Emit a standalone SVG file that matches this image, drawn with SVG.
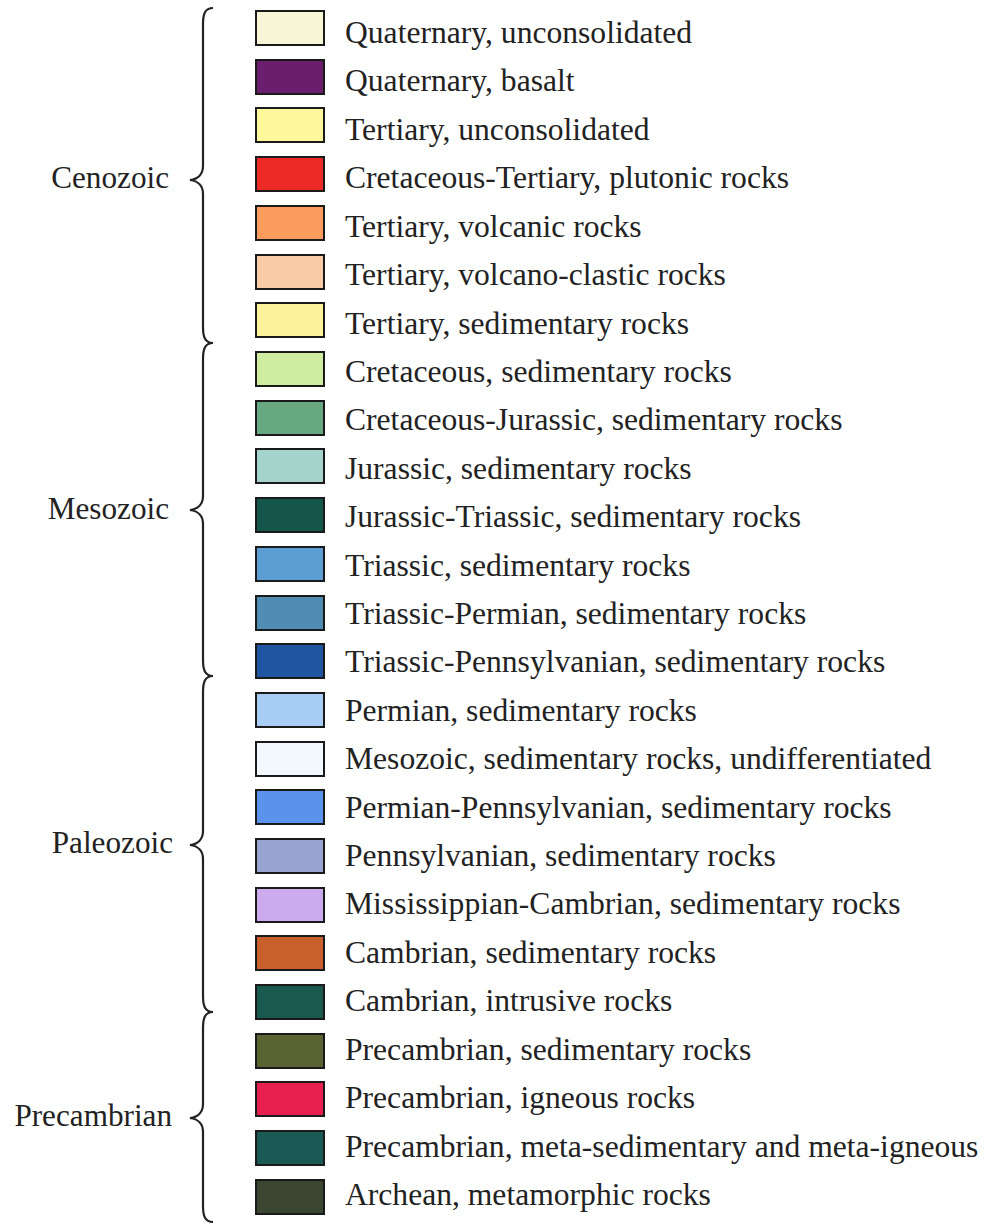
<svg xmlns="http://www.w3.org/2000/svg" width="985" height="1224" viewBox="0 0 985 1224">
<style>
text{font-family:"Liberation Serif","Times New Roman",serif;font-size:31.6px;fill:#222}
.g{text-anchor:end;font-size:31.2px}
.sw{stroke:#1a1a1a;stroke-width:2}
.br{fill:none;stroke:#222;stroke-width:2.2}
</style>
<rect width="985" height="1224" fill="#fff"/>
<g id="braces">
<path id="brace-cenozoic" class="br" d="M213,8 C205,8 203,14 203,24 L203,166 C203,174 198,179 190,180 C198,181 203,186 203,194 L203,327 C203,337 205,343 213,343"/>
<path id="brace-mesozoic" class="br" d="M213,343 C205,343 203,349 203,359 L203,496 C203,504 198,509 190,510 C198,511 203,516 203,524 L203,660 C203,670 205,676 213,676"/>
<path id="brace-paleozoic" class="br" d="M213,676 C205,676 203,682 203,692 L203,831 C203,839 198,844 190,845 C198,846 203,851 203,859 L203,996 C203,1006 205,1012 213,1012"/>
<path id="brace-precambrian" class="br" d="M213,1012 C205,1012 203,1018 203,1028 L203,1104 C203,1112 198,1117 190,1118 C198,1119 203,1124 203,1132 L203,1206 C203,1216 205,1222 213,1222"/>
</g>
<g id="group-labels">
<text class="g" x="169" y="188">Cenozoic</text>
<text class="g" x="169" y="519">Mesozoic</text>
<text class="g" x="173" y="853">Paleozoic</text>
<text class="g" x="172" y="1126">Precambrian</text>
</g>
<g id="items">
<g id="item0"><rect class="sw" x="256" y="11" width="68" height="34" fill="#f7f5d6"/><text x="345" y="43">Quaternary, unconsolidated</text></g>
<g id="item1"><rect class="sw" x="256" y="60" width="68" height="34" fill="#6a1f6e"/><text x="345" y="91">Quaternary, basalt</text></g>
<g id="item2"><rect class="sw" x="256" y="108" width="68" height="34" fill="#fdf89a"/><text x="345" y="140">Tertiary, unconsolidated</text></g>
<g id="item3"><rect class="sw" x="256" y="157" width="68" height="34" fill="#ec2a26"/><text x="345" y="188">Cretaceous-Tertiary, plutonic rocks</text></g>
<g id="item4"><rect class="sw" x="256" y="206" width="68" height="34" fill="#f99c5e"/><text x="345" y="237">Tertiary, volcanic rocks</text></g>
<g id="item5"><rect class="sw" x="256" y="255" width="68" height="34" fill="#f8caa6"/><text x="345" y="285">Tertiary, volcano-clastic rocks</text></g>
<g id="item6"><rect class="sw" x="256" y="303" width="68" height="34" fill="#fdf39c"/><text x="345" y="334">Tertiary, sedimentary rocks</text></g>
<g id="item7"><rect class="sw" x="256" y="352" width="68" height="34" fill="#cfeca0"/><text x="345" y="382">Cretaceous, sedimentary rocks</text></g>
<g id="item8"><rect class="sw" x="256" y="401" width="68" height="34" fill="#67a883"/><text x="345" y="430">Cretaceous-Jurassic, sedimentary rocks</text></g>
<g id="item9"><rect class="sw" x="256" y="449" width="68" height="34" fill="#a4d4cb"/><text x="345" y="479">Jurassic, sedimentary rocks</text></g>
<g id="item10"><rect class="sw" x="256" y="498" width="68" height="34" fill="#14574a"/><text x="345" y="527">Jurassic-Triassic, sedimentary rocks</text></g>
<g id="item11"><rect class="sw" x="256" y="547" width="68" height="34" fill="#5d9ed2"/><text x="345" y="576">Triassic, sedimentary rocks</text></g>
<g id="item12"><rect class="sw" x="256" y="596" width="68" height="34" fill="#4f8db5"/><text x="345" y="624">Triassic-Permian, sedimentary rocks</text></g>
<g id="item13"><rect class="sw" x="256" y="644" width="68" height="34" fill="#1f55a3"/><text x="345" y="672">Triassic-Pennsylvanian, sedimentary rocks</text></g>
<g id="item14"><rect class="sw" x="256" y="693" width="68" height="34" fill="#a7cdf4"/><text x="345" y="721">Permian, sedimentary rocks</text></g>
<g id="item15"><rect class="sw" x="256" y="742" width="68" height="34" fill="#f3f8fc"/><text x="345" y="769">Mesozoic, sedimentary rocks, undifferentiated</text></g>
<g id="item16"><rect class="sw" x="256" y="790" width="68" height="34" fill="#5b93ec"/><text x="345" y="818">Permian-Pennsylvanian, sedimentary rocks</text></g>
<g id="item17"><rect class="sw" x="256" y="839" width="68" height="34" fill="#98a4cf"/><text x="345" y="866">Pennsylvanian, sedimentary rocks</text></g>
<g id="item18"><rect class="sw" x="256" y="888" width="68" height="34" fill="#cbaaee"/><text x="345" y="914">Mississippian-Cambrian, sedimentary rocks</text></g>
<g id="item19"><rect class="sw" x="256" y="936" width="68" height="34" fill="#c8602e"/><text x="345" y="963">Cambrian, sedimentary rocks</text></g>
<g id="item20"><rect class="sw" x="256" y="985" width="68" height="34" fill="#1a5a4e"/><text x="345" y="1011">Cambrian, intrusive rocks</text></g>
<g id="item21"><rect class="sw" x="256" y="1034" width="68" height="34" fill="#5a6433"/><text x="345" y="1060">Precambrian, sedimentary rocks</text></g>
<g id="item22"><rect class="sw" x="256" y="1082" width="68" height="34" fill="#e8204f"/><text x="345" y="1108">Precambrian, igneous rocks</text></g>
<g id="item23"><rect class="sw" x="256" y="1131" width="68" height="34" fill="#1a5a55"/><text x="345" y="1157">Precambrian, meta-sedimentary and meta-igneous</text></g>
<g id="item24"><rect class="sw" x="256" y="1180" width="68" height="34" fill="#3a4632"/><text x="345" y="1205">Archean, metamorphic rocks</text></g>
</g>
</svg>
